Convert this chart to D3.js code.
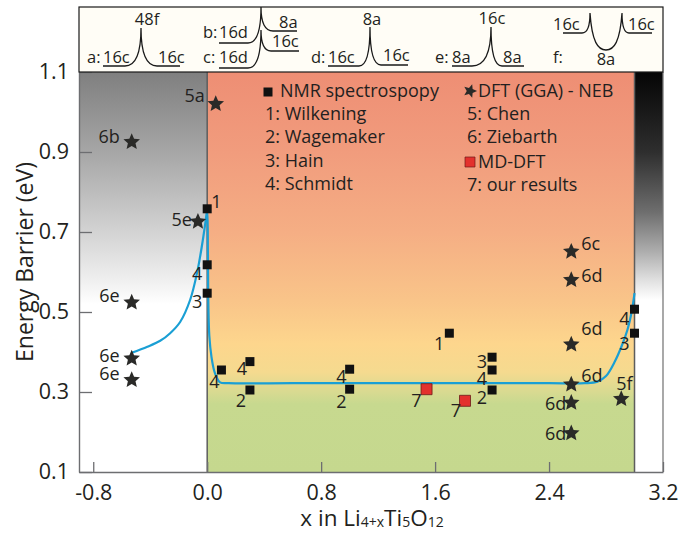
<!DOCTYPE html>
<html>
<head>
<meta charset="utf-8">
<script src="https://cdn.jsdelivr.net/npm/d3@7"></script>
<style>
  body { margin: 0; background: #fff; }
  text { font-family: "Open Sans", "Noto Sans", sans-serif; fill: #231f20; }
</style>
</head>
<body>
<svg id="chart" width="680" height="533"></svg>
<script>
// ---- values ----
const xTicks = [-0.8, 0.0, 0.8, 1.6, 2.4, 3.2];
const yTicks = [0.1, 0.3, 0.5, 0.7, 0.9, 1.1];

// NMR spectroscopy (1 Wilkening, 2 Wagemaker, 3 Hain, 4 Schmidt)
const nmrX   = [0.0, 0.0, 0.0, 0.1, 0.3, 0.3, 1.0, 1.0, 1.7, 2.0, 2.0, 2.0, 3.0, 3.0];
const nmrY   = [0.758, 0.618, 0.547, 0.355, 0.376, 0.305, 0.357, 0.307, 0.447, 0.387, 0.355, 0.305, 0.507, 0.447];
const nmrRef = ["1", "4", "3", "4", "4", "2", "4", "2", "1", "3", "4", "2", "4", "3"];

// MD-DFT (7 our results)
const mdX   = [1.54, 1.81];
const mdY   = [0.307, 0.278];
const mdRef = ["7", "7"];

// DFT (GGA) - NEB (5 Chen, 6 Ziebarth)
const nebX   = [0.06, -0.53, -0.065, -0.53, -0.53, -0.53, 2.556, 2.556, 2.556, 2.556, 2.556, 2.556, 2.907];
const nebY   = [1.02, 0.925, 0.726, 0.524, 0.384, 0.33, 0.651, 0.58, 0.419, 0.319, 0.273, 0.197, 0.2825];
const nebRef = ["5a", "6b", "5e", "6e", "6e", "6e", "6c", "6d", "6d", "6d", "6d", "6d", "5f"];

// barrier trend curve
const fitX = [-0.53, -0.42, -0.33, -0.26, -0.19, -0.12, -0.07, -0.035, -0.012, 0.0,
              0.005, 0.008, 0.015, 0.03, 0.05, 0.065, 0.09, 0.15, 0.6, 1.2, 1.8, 2.4, 2.65,
              2.74, 2.8, 2.86, 2.91, 2.95, 2.98, 3.0];
const fitY = [0.398, 0.413, 0.428, 0.447, 0.475, 0.53, 0.6, 0.67, 0.725, 0.755,
              0.65, 0.52, 0.44, 0.388, 0.352, 0.338, 0.324, 0.322, 0.322, 0.322, 0.322, 0.322, 0.322,
              0.326, 0.34, 0.375, 0.415, 0.455, 0.5, 0.547];

// composition ranges shaded behind the data
const regionX = [-0.9, 0.0, 3.0, 3.2];

// ---- label placement (dx, dy in px, anchor) ----
const nmrLabelPos = [[4,-1,"start"],[-5,15,"end"],[-5,15,"end"],[-2,18,"end"],[-3,13,"end"],[-4,17,"end"],
                     [-3,14,"end"],[-3,19,"end"],[-5,17,"end"],[-5,11,"end"],[-5,15,"end"],[-5,14,"end"],
                     [-5,16,"end"],[-5,17,"end"]];
const mdLabelPos  = [[-5,18,"end"],[-4,16,"end"]];
const nebLabelPos = [[-11,-2,"end"],[-12,1,"end"],[-6,4,"end"],[-12,0,"end"],[-12,4,"end"],[-12,0,"end"],
                     [10,-2,"start"],[10,2,"start"],[10,-9,"start"],[10,-2,"start"],[-5,7,"end"],[-5,7,"end"],
                     [-5,-9,"start"]];

// ---- scales ----
const svg = d3.select("#chart");
const x = d3.scaleLinear().domain([-0.9, 3.2]).range([79, 663]);
const y = d3.scaleLinear().domain([0.1, 1.1]).range([472, 72]);

// ---- background gradients ----
const defs = svg.append("defs");
function vGrad(id, stops) {
  const g = defs.append("linearGradient").attr("id", id)
    .attr("gradientUnits", "userSpaceOnUse")
    .attr("x1", 0).attr("x2", 0).attr("y1", y(1.1)).attr("y2", y(0.1));
  stops.forEach(([o, c]) => g.append("stop").attr("offset", o).attr("stop-color", c));
}
vGrad("gLeft", [[0, "#7f7f7f"], [0.2, "#a6a6a6"], [0.4, "#d3d3d3"], [0.52, "#efefef"], [0.58, "#ffffff"], [1, "#ffffff"]]);
vGrad("gMid", [[0, "#ee8e74"], [0.2, "#f19c7d"], [0.4, "#f5ae84"], [0.57, "#f9c489"], [0.68, "#fdd68d"],
               [0.75, "#f5da8f"], [0.8, "#d8da91"], [0.83, "#c7d98f"], [1, "#c5d88e"]]);
vGrad("gRight", [[0, "#050505"], [0.2, "#2e2e2e"], [0.35, "#6e6e6e"], [0.45, "#aeaeae"], [0.52, "#e0e0e0"],
                 [0.57, "#ffffff"], [1, "#ffffff"]]);

const fills = ["url(#gLeft)", "url(#gMid)", "url(#gRight)"];
svg.append("g").selectAll("rect").data(d3.pairs(regionX)).join("rect")
  .attr("x", d => x(d[0])).attr("width", d => x(d[1]) - x(d[0]))
  .attr("y", y(1.1)).attr("height", y(0.1) - y(1.1))
  .attr("fill", (d, i) => fills[i]);

// phase boundaries at x = 0 and x = 3
svg.append("g").selectAll("line").data([regionX[1], regionX[2]]).join("line")
  .attr("x1", d => x(d)).attr("x2", d => x(d))
  .attr("y1", y(1.1)).attr("y2", y(0.1))
  .attr("stroke", "#5d5d5d").attr("stroke-width", 1.5);

// right frame edge
svg.append("line").attr("x1", x(3.2)).attr("x2", x(3.2)).attr("y1", y(1.1)).attr("y2", y(0.1))
  .attr("stroke", "#7a7a7a").attr("stroke-width", 1.3);

// ---- axes ----
const yAxis = svg.append("g").attr("transform", `translate(${x(-0.9)},0)`)
  .call(d3.axisLeft(y).tickValues(yTicks).tickFormat(d3.format(".1f"))
    .tickSizeInner(-13).tickSizeOuter(0).tickPadding(10));
const xAxis = svg.append("g").attr("transform", `translate(0,${y(0.1)})`)
  .call(d3.axisBottom(x).tickValues(xTicks).tickFormat(d3.format(".1f"))
    .tickSizeInner(-10).tickSizeOuter(0).tickPadding(13));
[yAxis, xAxis].forEach(a => {
  a.select(".domain").attr("stroke", "#6d6e71").attr("stroke-width", 1.4);
  a.selectAll(".tick line").attr("stroke", "#6d6e71").attr("stroke-width", 1.3);
  a.selectAll(".tick text").attr("font-size", 21.5).attr("font-family", "\"Open Sans\", sans-serif").attr("fill", "#231f20");
});
xAxis.selectAll(".tick text").text(d => d < 0 ? "-" + Math.abs(d).toFixed(1) : d.toFixed(1));

svg.append("text").attr("transform", "translate(33,262) rotate(-90)")
  .attr("text-anchor", "middle").attr("font-size", 23).text("Energy Barrier (eV)");

const xt = svg.append("text").attr("x", 372).attr("y", 526).attr("text-anchor", "middle").attr("font-size", 22.5);
xt.append("tspan").text("x in Li");
xt.append("tspan").attr("font-size", 14).attr("dy", 1).text("4+x");
xt.append("tspan").attr("dy", -1).text("Ti");
xt.append("tspan").attr("font-size", 14).attr("dy", 1).text("5");
xt.append("tspan").attr("dy", -1).text("O");
xt.append("tspan").attr("font-size", 14).attr("dy", 1).text("12");

// ---- trend curve ----
const fitPts = fitX.map((v, i) => [v, fitY[i]]);
svg.append("path").datum(fitPts)
  .attr("d", d3.line().x(d => x(d[0])).y(d => y(d[1])).curve(d3.curveCatmullRom.alpha(0.5)))
  .attr("fill", "none").attr("stroke", "#1a9fd4").attr("stroke-width", 2.2);

// ---- markers ----
const chunkyStar = {
  draw(ctx, size) {
    const R = Math.sqrt(size), r = R * 0.46;
    for (let i = 0; i < 10; i++) {
      const a = -Math.PI / 2 + i * Math.PI / 5, rr = i % 2 ? r : R;
      const px = rr * Math.cos(a), py = rr * Math.sin(a);
      i ? ctx.lineTo(px, py) : ctx.moveTo(px, py);
    }
    ctx.closePath();
  }
};
const starSym = d3.symbol().type(chunkyStar).size(76);
const squareSym = d3.symbol().type(d3.symbolSquare);

function addLabels(xs, ys, refs, pos) {
  svg.append("g").selectAll("text").data(refs).join("text")
    .attr("x", (d, i) => x(xs[i]) + pos[i][0])
    .attr("y", (d, i) => y(ys[i]) + pos[i][1])
    .attr("text-anchor", (d, i) => pos[i][2])
    .attr("font-size", 18)
    .text(d => d);
}

svg.append("g").selectAll("path").data(nebX).join("path")
  .attr("transform", (d, i) => `translate(${x(d)},${y(nebY[i])})`)
  .attr("d", starSym).attr("fill", "#2a2a28");
svg.append("g").selectAll("path").data(nmrX).join("path")
  .attr("transform", (d, i) => `translate(${x(d)},${y(nmrY[i])})`)
  .attr("d", squareSym.size(81)()).attr("fill", "#111");
svg.append("g").selectAll("path").data(mdX).join("path")
  .attr("transform", (d, i) => `translate(${x(d)},${y(mdY[i])})`)
  .attr("d", squareSym.size(121)()).attr("fill", "#e3312d").attr("stroke", "#6b1b18").attr("stroke-width", 0.8);

addLabels(nmrX, nmrY, nmrRef, nmrLabelPos);
addLabels(mdX, mdY, mdRef, mdLabelPos);
addLabels(nebX, nebY, nebRef, nebLabelPos);

// ---- legend ----
const leg = svg.append("g").attr("font-size", 18);
leg.append("path").attr("transform", "translate(268,92)").attr("d", d3.symbol().type(d3.symbolSquare).size(81)()).attr("fill", "#111");
leg.append("text").attr("x", 280).attr("y", 97).text("NMR spectrospopy");
["1: Wilkening", "2: Wagemaker", "3: Hain", "4: Schmidt"].forEach((t, i) =>
  leg.append("text").attr("x", 265).attr("y", 120 + i * 23.4).text(t));
leg.append("path").attr("transform", "translate(470,91) rotate(18)").attr("d", d3.symbol().type(chunkyStar).size(50)()).attr("fill", "#2a2a28");
leg.append("text").attr("x", 478).attr("y", 97).text("DFT (GGA) - NEB");
leg.append("text").attr("x", 467).attr("y", 120).text("5: Chen");
leg.append("text").attr("x", 467).attr("y", 143.4).text("6: Ziebarth");
leg.append("path").attr("transform", "translate(470,162)").attr("d", d3.symbol().type(d3.symbolSquare).size(100)()).attr("fill", "#e3312d").attr("stroke", "#6b1b18").attr("stroke-width", 0.7);
leg.append("text").attr("x", 478).attr("y", 168).text("MD-DFT");
leg.append("text").attr("x", 467).attr("y", 191).text("7: our results");

// ---- site-hopping schematics above the plot ----
const panel = svg.append("g");
panel.append("rect").attr("x", x(-0.9)).attr("y", 7).attr("width", x(3.2) - x(-0.9)).attr("height", 65)
  .attr("fill", "#fffdf6").attr("stroke", "#1a1a1a").attr("stroke-width", 1.2);

// single-barrier hops: underline start, left foot, peak, right foot, underline end
const hops = [
  { ul0: 103, lf: [125, 66], pk: [141, 28], rf: [157, 66], ul1: 180 },
  { ul0: 219, lf: [248, 43], pk: [261, 7],  rf: [273, 31], ul1: 297 },
  { ul0: 219, lf: [248, 68], pk: [261, 30], rf: [271, 51], ul1: 299 },
  { ul0: 328, lf: [359, 66], pk: [370, 27], rf: [381, 65], ul1: 408 },
  { ul0: 452, lf: [472, 66], pk: [491, 27], rf: [502, 66], ul1: 524 }
];
hops.forEach(h => {
  const p = d3.path();
  p.moveTo(h.ul0, h.lf[1]);
  p.lineTo(h.lf[0], h.lf[1]);
  p.quadraticCurveTo(h.pk[0], h.lf[1], h.pk[0], h.pk[1]);
  p.quadraticCurveTo(h.pk[0], h.rf[1], h.rf[0], h.rf[1]);
  p.lineTo(h.ul1, h.rf[1]);
  panel.append("path").attr("d", p.toString()).attr("fill", "none").attr("stroke", "#1a1a1a").attr("stroke-width", 1.3);
});
// double barrier through 8a
{
  const p = d3.path();
  p.moveTo(563, 33); p.lineTo(582, 33);
  p.quadraticCurveTo(590, 33, 590, 13);
  p.bezierCurveTo(592, 42, 598, 50, 606, 50);
  p.bezierCurveTo(614, 50, 620, 42, 622, 13);
  p.quadraticCurveTo(622, 33, 629, 33);
  p.lineTo(652, 33);
  panel.append("path").attr("d", p.toString()).attr("fill", "none").attr("stroke", "#1a1a1a").attr("stroke-width", 1.3);
}
const siteText = [
  ["a:", 87, 63, "start"], ["16c", 103, 63, "start"], ["16c", 158, 63, "start"], ["48f", 147, 25, "middle"],
  ["b:", 203, 38, "start"], ["16d", 219, 38, "start"], ["8a", 279, 28, "start"],
  ["c:", 203, 63, "start"], ["16d", 219, 63, "start"], ["16c", 272, 47, "start"],
  ["d:", 311, 63, "start"], ["16c", 328, 63, "start"], ["16c", 383, 61, "start"], ["8a", 372, 25, "middle"],
  ["e:", 435, 63, "start"], ["8a", 452, 63, "start"], ["8a", 503, 63, "start"], ["16c", 492, 24, "middle"],
  ["16c", 553, 30, "start"], ["16c", 628, 30, "start"], ["f:", 553, 63, "start"], ["8a", 606, 65, "middle"]
];
panel.append("g").selectAll("text").data(siteText).join("text")
  .attr("x", d => d[1]).attr("y", d => d[2]).attr("text-anchor", d => d[3])
  .attr("font-size", 16.5).text(d => d[0]);
</script>
</body>
</html>
